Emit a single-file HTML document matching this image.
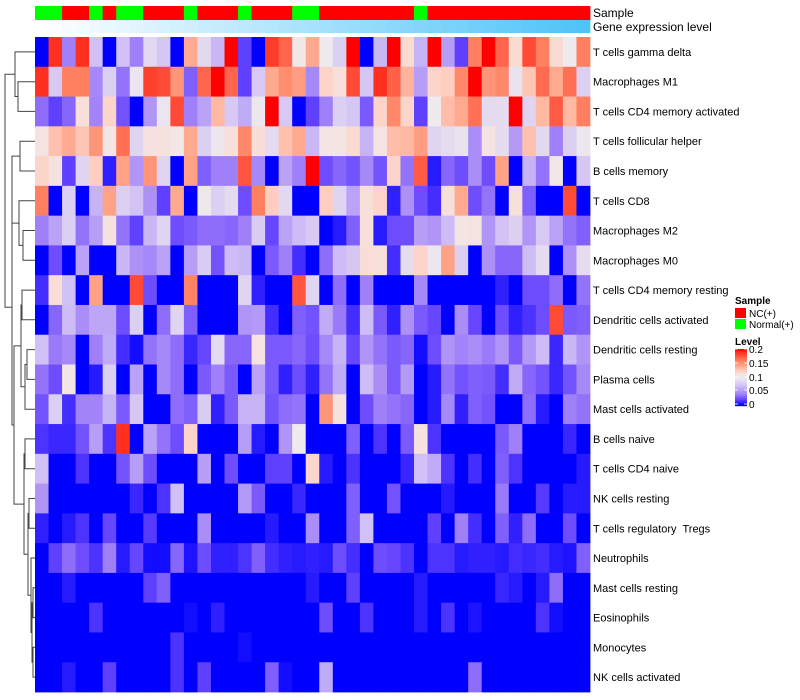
<!DOCTYPE html>
<html><head><meta charset="utf-8"><style>
html,body{margin:0;padding:0;background:#fff;}
svg{display:block;font-family:"Liberation Sans",sans-serif;}
#rowlabels text{white-space:pre;}
</style></head><body>
<svg id="chart" width="800" height="700" xmlns="http://www.w3.org/2000/svg">
<g id="dendro"></g>
<g id="annot"></g>
<g id="cells"></g>
<g id="rowlabels"></g>
<text x="593" y="17" font-size="12">Sample</text>
<text x="593" y="31" font-size="12">Gene expression level</text>
<g>
<text x="735" y="304" font-size="10" font-weight="bold">Sample</text>
<rect x="735" y="308" width="11" height="10" fill="#ff0000"/>
<text x="749" y="317" font-size="10">NC(+)</text>
<rect x="735" y="319" width="11" height="10" fill="#00ff00"/>
<text x="749" y="328" font-size="10">Normal(+)</text>
<text x="735" y="345" font-size="10" font-weight="bold">Level</text>
<g id="legbar"></g>
<text x="749" y="353" font-size="10">0.2</text>
<text x="749" y="367" font-size="10">0.15</text>
<text x="749" y="381" font-size="10">0.1</text>
<text x="749" y="394" font-size="10">0.05</text>
<text x="749" y="408" font-size="10">0</text>
</g>
</svg>
<script>
// Row labels (cell types)
const rowNames = ["T cells gamma delta","Macrophages M1","T cells CD4 memory activated","T cells follicular helper","B cells memory","T cells CD8","Macrophages M2","Macrophages M0","T cells CD4 memory resting","Dendritic cells activated","Dendritic cells resting","Plasma cells","Mast cells activated","B cells naive","T cells CD4 naive","NK cells resting","T cells regulatory  Tregs","Neutrophils","Mast cells resting","Eosinophils","Monocytes","NK cells activated"];
// Sample annotation per column (N = Normal(+), C = NC(+))
const sampleGroups = ["N","N","C","C","N","C","N","N","C","C","C","N","C","C","C","N","C","C","C","N","N","C","C","C","C","C","C","C","N","C","C","C","C","C","C","C","C","C","C","C","C"];
// Heat levels: -5 = 0 (blue), 0 = 0.1 (white), 5 = 0.2 (red)
const r0=[-5,4.5,-3,4.5,-1.5,-5,-1.5,-3,-0.7,-1.3,-5,2,-0.7,-1.7,5,-4,-5,4.3,3.5,0.2,2,0,-1,5,-5,-1.7,5,0.8,-1.8,5,-2.3,-4,3,5,3.5,0.8,4,3,0.8,0,3];
const r1=[4.5,-1.2,3,3,-2.8,-1,-3.2,-0.2,4.2,4,2.5,-3.5,3.5,5,3.5,-4,-1.2,2,2.7,2.3,-2.8,1,0.6,4,-1.3,4.5,3.6,1.8,-2.3,1,1.2,2.8,5,2.5,2.8,-0.3,1.4,3.4,2,3.3,-1];
const r2=[-3.3,-4,-3.4,0.6,-2.9,1,-3.7,-5,-2.5,-0.2,4,-3,-2.2,1.7,-1.2,-2,-0.1,5,-1.2,-5,-4,-3,-1,-1.3,-3.6,1,2.8,1,-4,0,1.6,2,3.3,-0.6,-0.5,5,-0.8,1.7,3.7,1.7,3];
const r3=[0.4,1.5,2,1.4,2.5,0.3,3.3,-0.8,0.5,0.5,0.2,2,-1,-0.1,0.6,2.8,0.7,-0.6,1.5,2,-1.7,0.3,0.3,0.8,-1.8,0.4,1.6,1.7,2.3,-0.8,-0.5,-0.3,-2.7,0.4,-0.5,-2.4,1.5,-0.7,-3,-1,-0.1];
const r4=[1,0.5,-4,-0.8,1.2,-4.5,2.2,-2.5,2.5,-0.8,-5,2.2,-3.5,-3,-3,3.8,-2.8,-5,-2.2,-3,5,-3.8,-3.4,-3.7,-2.8,-3.7,1,-3.2,3.7,-4.6,-3.4,-3.8,-2.7,-3.8,2.2,-5,-1.8,-3.2,0.2,-5,-1.3];
const r5=[3,-5,-1,-5,-1.8,2.2,-1,-1.4,-2.6,-4,2,-5,0.1,-1,-0.6,-3.8,3,1.2,-0.7,-5,-5,1.2,-0.8,-2.2,0.6,1,-4.5,-2.6,-3.8,-4.3,0.6,2,-3.8,-3.2,-5,0.6,-3.5,-5,-5,4,-5];
const r6=[-3,-2.2,-1,-3.2,-2.3,0.5,-3.2,-4,-1.7,-0.8,-3.8,-3.6,-3.3,-3.3,-3.4,-3,-1.1,-3.9,-2.2,-1.6,-1.2,-5,-4.6,-3.5,0.6,-4.6,-3.8,-3.8,-2.3,-2.5,-1.6,0.3,0.4,-2.5,-1.4,-1,-2.5,-1.2,-2.2,-3.2,-3.5];
const r7=[-5,-3.8,-5,-2.2,-5,-5,-1.7,-2.6,-2.8,-2.2,-5,-2.3,-1.1,-3.7,-1.6,-1.7,-5,-3.6,-3,-4.3,-5,-3.3,-1.6,-1.3,0.7,0.6,-4.3,-0.5,1,-0.2,2.2,-1,-5,-2.6,-3.4,-3.4,-1.6,-0.5,-5,-2.6,-0.5];
const r8=[-4.3,0.7,-1.5,-5,2.2,-5,-5,4,-3.8,-5,-5,2.9,-5,-5,-5,-0.8,-4.5,-5,-5,3.8,-0.8,-5,-3.3,-5,-3,-5,-5,-5,-2.8,-5,-5,-5,-5,-5,-4.5,-5,-3.8,-3.8,-3.3,-5,-3.2];
const r9=[-5,-3.4,-1.6,-2.7,-2.1,-2.1,-3.8,-1,-5,-3.3,-0.8,-3.5,-5,-5,-5,-2.5,-2.4,-4.3,-5,-3.5,-3.7,-2,-3.1,-4.3,-1.6,-3.6,-4.5,-2.6,-3.6,-3.9,-5,-2.7,-3.9,-5,-3.8,-4.5,-4.2,-3.8,4,-3.6,-3.5];
const r10=[-1.5,-3.1,-2.8,-5,-3,-2,-4.3,-4.8,-3.2,-2.8,-3.3,-4.4,-3.9,-0.6,-3.4,-3.4,0.4,-3.6,-3.6,-3.4,-3.8,-2.8,-1.8,-3.9,-2.5,-3.2,-3.6,-3.4,-4.8,-3.8,-2.5,-2.9,-2.7,-3.1,-2.5,-3.6,-2.4,-1.6,-4.4,-1.7,-2.5];
const r11=[-3.2,-3.8,0.3,-5,-4.6,-1,-5,-2.2,-5,-2.8,-3.3,-5,-3.6,-3,-3.6,-5,-2.2,-3.6,-4.5,-3.8,-4.5,-3.2,-2,-5,-1.6,-2.7,-3.6,-2.4,-5,-4.6,-3.2,-3.7,-3.5,-3.6,-4.3,-2,-3.4,-3.7,-4.4,-3.7,-2.8];
const r12=[-3.7,-1,-4.3,-2.9,-2.9,-1.8,-3.6,-1.3,-5,-5,-3.3,-3.5,-1.1,-4.5,-3.6,-1.8,-1.8,-3.7,-3.3,-3.2,-5,2.5,0.5,-5,-3.8,-3,-3.2,-3.4,-5,-4.6,-2.8,-4.5,-3.5,-3.7,-5,-5,-3.3,-4.6,-5,-3,-3.2];
const r13=[-4.2,-4.4,-4.4,-3.7,-2.3,-4.2,4.5,-5,-2.2,-3.2,-3.8,1,-5,-5,-5,-2.3,-4.6,-5,-2.5,0,-5,-5,-5,-3.5,-5,-4.2,-5,-3.6,0.5,-4.2,-5,-5,-5,-5,-3.6,-3,-5,-5,-5,-4.4,-5];
const r14=[-1.5,-5,-5,-4.2,-5,-5,-3.7,-2.3,-3.8,-5,-5,-5,-2.3,-5,-3.8,-5,-5,-4,-4,-5,1,-4.6,-5,-4.2,-5,-5,-5,-4.4,-1.5,-2,-4.2,-5,-4.3,-5,-3.5,-4.2,-5,-5,-5,-5,-4.6];
const r15=[-2.5,-5,-5,-5,-5,-5,-5,-4.4,-5,-4.2,-1.5,-5,-5,-5,-5,-2.4,-3.6,-5,-5,-4.4,-5,-5,-5,-3.5,-5,-5,-3.7,-5,-5,-5,-4.6,-5,-5,-5,-3.1,-5,-5,-4.1,-5,-4.6,-4.6];
const r16=[-4.5,-5,-4.6,-4.2,-5,-3.9,-5,-5,-4.1,-5,-5,-5,-2.7,-5,-5,-5,-5,-4.6,-5,-5,-2.7,-5,-5,-3.5,-1.5,-5,-5,-5,-5,-4,-5,-3,-4.3,-5,-3.5,-4.5,-3.3,-5,-5,-3.8,-5];
const r17=[-5,-4,-3.3,-3.8,-4.2,-3,-4.6,-3.9,-4.8,-4.8,-3.4,-4.7,-3.8,-4.5,-4.5,-4.2,-3.5,-4.3,-4.5,-4.6,-4.5,-4.6,-3.8,-4.3,-5,-3.8,-3.9,-4.2,-5,-4.2,-4.2,-4.6,-4.5,-4.5,-4.6,-4.3,-4.4,-4.3,-4.6,-4.7,-3.5];
const r18=[-5,-5,-4.6,-5,-5,-5,-5,-5,-4,-3.5,-5,-5,-5,-5,-5,-5,-5,-5,-5,-5,-4.6,-5,-5,-4,-5,-5,-5,-5,-4.6,-5,-5,-5,-5,-5,-4.4,-4.6,-5,-4.6,-3.3,-5,-5];
const r19=[-5,-5,-5,-5,-4.2,-5,-5,-5,-5,-5,-5,-4.8,-5,-4.5,-5,-5,-5,-5,-5,-5,-5,-3.8,-5,-5,-4.2,-5,-5,-5,-4.6,-5,-4.2,-5,-4.7,-5,-5,-5,-5,-4.2,-4.8,-5,-5];
const r20=[-5,-5,-5,-5,-5,-5,-5,-5,-5,-5,-4.2,-5,-5,-5,-5,-4.8,-5,-5,-5,-5,-5,-5,-5,-5,-5,-5,-5,-5,-5,-5,-5,-5,-5,-5,-5,-5,-5,-5,-5,-5,-5];
const r21=[-5,-5,-4.6,-5,-5,-4,-5,-5,-5,-5,-4.2,-5,-4,-5,-5,-5,-5,-3.5,-4.8,-5,-5,-2,-5,-5,-5,-5,-5,-5,-5,-5,-5,-5,-3.3,-5,-5,-5,-5,-5,-5,-5,-5];
const levels=[r0,r1,r2,r3,r4,r5,r6,r7,r8,r9,r10,r11,r12,r13,r14,r15,r16,r17,r18,r19,r20,r21];

const NS="http://www.w3.org/2000/svg";
const X0=35,X1=590,Y0=37,Y1=692;
const nCol=sampleGroups.length,nRow=rowNames.length;
const cw=(X1-X0)/nCol,rh=(Y1-Y0)/nRow;
function xPos(i){return X0+i*cw;}
function yPos(j){return Y0+j*rh;}
const stops=[[-5,0,0,255],[-4,96,64,255],[-3,160,128,248],[-1.5,208,192,245],[-0.7,226,216,240],[0,238,234,238],[0.7,248,222,214],[1.2,255,206,192],[2,255,170,144],[3,255,128,96],[3.6,255,96,72],[4.5,255,48,32],[5,255,0,0]];
function color(l){
  l=Math.max(-5,Math.min(5,l));
  for(let k=0;k<stops.length-1;k++){const a=stops[k],b=stops[k+1];
    if(l<=b[0]){const t=(l-a[0])/(b[0]-a[0]);
      return `rgb(${Math.round(a[1]+t*(b[1]-a[1]))},${Math.round(a[2]+t*(b[2]-a[2]))},${Math.round(a[3]+t*(b[3]-a[3]))})`;}}
  return "rgb(255,0,0)";
}
function mk(tag,attrs,parent){const e=document.createElementNS(NS,tag);for(const k in attrs)e.setAttribute(k,attrs[k]);parent.appendChild(e);return e;}

const cells=document.getElementById('cells');
for(let j=0;j<nRow;j++){for(let i=0;i<nCol;i++){
  const r=mk('rect',{x:xPos(i).toFixed(2),y:yPos(j).toFixed(2),width:(cw+0.4).toFixed(2),height:(rh+0.4).toFixed(2),fill:color(levels[j][i])},cells);
  
  
}}
const annot=document.getElementById('annot');
for(let i=0;i<nCol;i++){
  const s=mk('rect',{x:xPos(i).toFixed(2),y:6,width:(cw+0.4).toFixed(2),height:14,fill:sampleGroups[i]==="N"?"#00ff00":"#ff0000"},annot);
  
  
  const t=i/(nCol-1);
  const g=mk('rect',{x:xPos(i).toFixed(2),y:20,width:(cw+0.4).toFixed(2),height:13,fill:`rgb(${Math.round(255-t*176)},${Math.round(255-t*60)},${Math.round(255-t*8)})`},annot);
  
  
}
const rl=document.getElementById('rowlabels');
rowNames.forEach((n,j)=>{
  const t=mk('text',{x:593,y:(yPos(j)+rh/2+4).toFixed(1),'font-size':11},rl);
  t.textContent=n;
  
  
});
// legend colorbar
const lb=document.getElementById('legbar');
for(let k=0;k<57;k++){
  const l=5-10*k/56;
  mk('rect',{x:735,y:349+k,width:12,height:1.2,fill:color(l)},lb);
}
[349,363,377,390,404].forEach(y=>{mk('line',{x1:735,x2:738,y1:y,y2:y,stroke:'#fff','stroke-width':0.8},lb);mk('line',{x1:744,x2:747,y1:y,y2:y,stroke:'#fff','stroke-width':0.8},lb);});
// dendrogram
const merges=[[1,2,18],[0,22,15],[3,4,20],[6,7,23],[5,25,19],[24,26,12],[8,9,22],[10,11,27],[29,12,25],[28,30,21],[13,14,25],[15,16,29],[18,19,33],[20,21,33],[34,35,32],[17,36,31],[33,37,28],[32,38,24],[31,39,14],[27,40,12],[23,41,5]];
const nodes=[];
for(let j=0;j<nRow;j++)nodes.push({x:35,y:yPos(j)+rh/2});
const dg=document.getElementById('dendro');
merges.forEach(m=>{
  const a=nodes[m[0]],b=nodes[m[1]],x=m[2];
  const y=(a.y+b.y)/2;
  mk('path',{d:`M${a.x},${a.y.toFixed(1)}H${x}V${b.y.toFixed(1)}H${b.x}`,fill:'none',stroke:'#444','stroke-width':1},dg);
  nodes.push({x:x,y:y});
});
</script>
</body></html>
